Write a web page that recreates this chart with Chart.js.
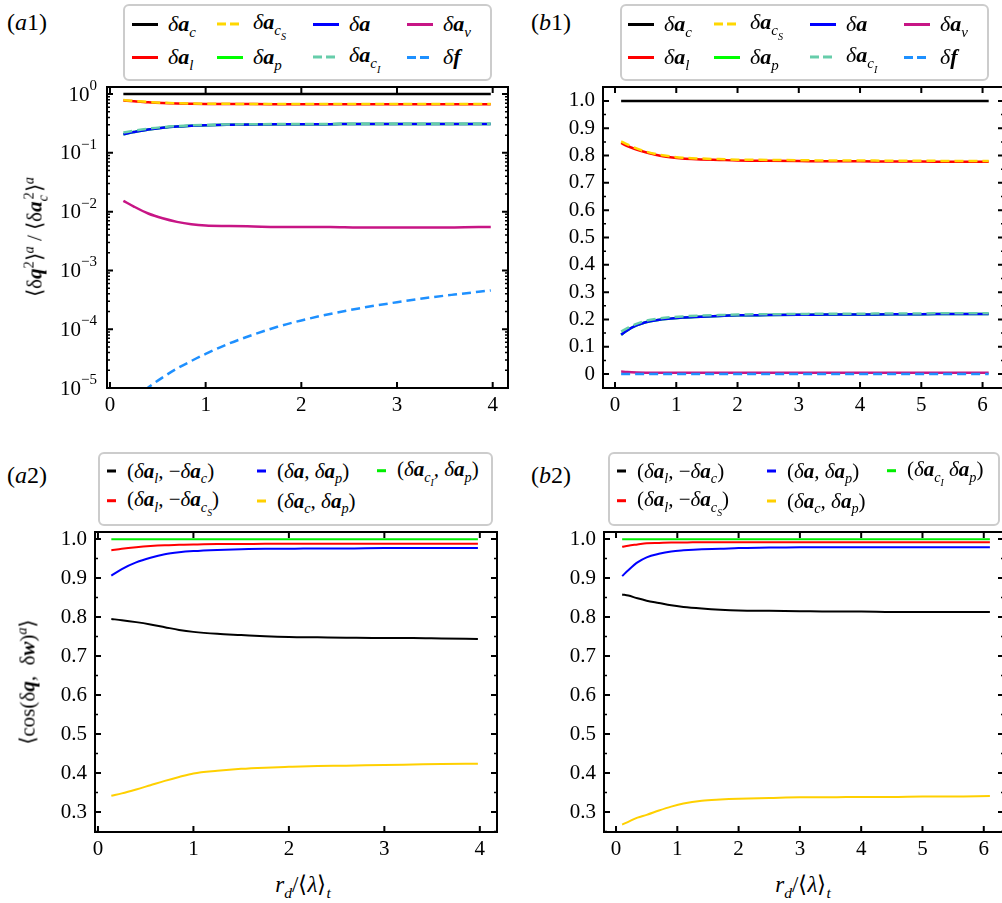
<!DOCTYPE html>
<html>
<head>
<meta charset="utf-8">
<script src="https://cdn.jsdelivr.net/npm/chart.js@4.4.0/dist/chart.umd.min.js"></script>
<style>
  body { margin: 0; width: 1002px; height: 903px; overflow: hidden; background: #fff; position: relative; font-family: 'Liberation Serif', 'Times New Roman', Times, serif; color: #000; }
  canvas { position: absolute; }
  .lg { position: absolute; border: 2px solid #cccccc; border-radius: 6px; background: #fff; box-sizing: border-box; }
  .it { position: absolute; display: flex; align-items: center; white-space: nowrap; transform: translateY(-50%); }
  .sw { display: inline-block; height: 3px; }
  .tx { font-style: italic; line-height: 1; }
  .r { font-style: normal; }
  sub { font-size: 0.68em; vertical-align: -0.4em; line-height: 0; }
  sup { font-size: 0.68em; vertical-align: 0.55em; line-height: 0; }
  .lab { position: absolute; font-size: 24px; line-height: 1; }
  .yt { position: absolute; font-size: 21px; line-height: 1; white-space: nowrap; transform: translate(-50%, -50%) rotate(-90deg); }
  .xt { position: absolute; font-size: 23px; line-height: 1; white-space: nowrap; transform: translate(-50%, -50%); font-style: italic; }
</style>
</head>
<body>
<canvas id="a1" width="475" height="355" style="left:40px;top:60px"></canvas>
<canvas id="b1" width="470" height="355" style="left:540px;top:60px"></canvas>
<canvas id="a2" width="475" height="355" style="left:30px;top:505px"></canvas>
<canvas id="b2" width="470" height="355" style="left:540px;top:505px"></canvas>

<div class="lab" style="left:7px;top:10px">(<i>a</i>1)</div>
<div class="lab" style="left:531px;top:10px">(<i>b</i>1)</div>
<div class="lab" style="left:7px;top:463px">(<i>a</i>2)</div>
<div class="lab" style="left:531px;top:463px">(<i>b</i>2)</div>

<div class="yt" style="left:35px;top:237px">⟨δ<b><i>q</i></b><sup>2</sup>⟩<sup><i>a</i></sup> / ⟨δ<b><i>a</i></b><sub><i>c</i></sub><sup style="margin-left:-0.3em">2</sup>⟩<sup><i>a</i></sup></div>
<div class="yt" style="left:28px;top:682px">⟨cos(δ<b><i>q</i></b>, &nbsp;δ<b><i>w</i></b>)<sup><i>a</i></sup>⟩</div>
<div class="xt" style="left:303px;top:884px">r<sub>d</sub><span class="r">/⟨</span>λ<span class="r">⟩</span><sub>t</sub></div>
<div class="xt" style="left:803px;top:884px">r<sub>d</sub><span class="r">/⟨</span>λ<span class="r">⟩</span><sub>t</sub></div>

<script>
// x positions (r_d / <lambda>_t)
const xA = [0.14, 0.25, 0.4, 0.55, 0.7, 0.85, 1.0, 1.25, 1.5, 1.75, 2.0, 2.3, 2.6, 3.0, 3.3, 3.6, 3.98];
const xB = [0.1, 0.2, 0.35, 0.5, 0.7, 0.9, 1.1, 1.4, 1.7, 2.0, 2.5, 3.0, 3.5, 4.0, 4.5, 5.0, 5.5, 6.1];

// (a1) variance ratios, log scale
const a1_ac  = [1, 1, 1, 1, 1, 1, 1, 1, 1, 1, 1, 1, 1, 1, 1, 1, 1];
const a1_al  = [0.78, 0.755, 0.725, 0.705, 0.693, 0.686, 0.681, 0.677, 0.675, 0.674, 0.673, 0.673, 0.672, 0.672, 0.672, 0.671, 0.671];
const a1_acS = [0.79, 0.765, 0.735, 0.712, 0.70, 0.692, 0.686, 0.682, 0.68, 0.679, 0.678, 0.678, 0.678, 0.677, 0.677, 0.677, 0.677];
const a1_a   = [0.208, 0.226, 0.25, 0.268, 0.281, 0.29, 0.296, 0.301, 0.304, 0.306, 0.307, 0.308, 0.309, 0.309, 0.31, 0.31, 0.31];
const a1_ap  = [0.208, 0.226, 0.25, 0.268, 0.281, 0.29, 0.296, 0.301, 0.304, 0.306, 0.307, 0.308, 0.309, 0.309, 0.31, 0.31, 0.31];
const a1_acI = [0.222, 0.238, 0.258, 0.274, 0.285, 0.293, 0.299, 0.304, 0.307, 0.309, 0.31, 0.311, 0.312, 0.312, 0.313, 0.313, 0.313];
const a1_av  = [0.0153, 0.0122, 0.0093, 0.0077, 0.0067, 0.0061, 0.0058, 0.0057, 0.0056, 0.0055, 0.0055, 0.0055, 0.0054, 0.0054, 0.0054, 0.0054, 0.0055];
const a1_f   = [4.4e-6, 6.3e-6, 1.02e-5, 1.51e-5, 2.14e-5, 2.88e-5, 3.8e-5, 5.75e-5, 8.1e-5, 1.1e-4, 1.41e-4, 1.82e-4, 2.26e-4, 2.88e-4, 3.39e-4, 3.89e-4, 4.57e-4];

// (b1) variance ratios, linear scale
const b1_ac  = [1, 1, 1, 1, 1, 1, 1, 1, 1, 1, 1, 1, 1, 1, 1, 1, 1, 1];
const b1_al  = [0.846, 0.835, 0.822, 0.812, 0.801, 0.794, 0.789, 0.786, 0.784, 0.782, 0.781, 0.780, 0.779, 0.779, 0.778, 0.778, 0.777, 0.777];
const b1_acS = [0.852, 0.841, 0.826, 0.815, 0.804, 0.797, 0.792, 0.789, 0.787, 0.785, 0.784, 0.783, 0.782, 0.782, 0.781, 0.781, 0.78, 0.78];
const b1_a   = [0.144, 0.16, 0.178, 0.19, 0.198, 0.203, 0.207, 0.21, 0.213, 0.215, 0.216, 0.217, 0.218, 0.218, 0.219, 0.219, 0.22, 0.22];
const b1_ap  = [0.144, 0.16, 0.178, 0.19, 0.198, 0.203, 0.207, 0.21, 0.213, 0.215, 0.216, 0.217, 0.218, 0.218, 0.219, 0.219, 0.22, 0.22];
const b1_acI = [0.156, 0.168, 0.184, 0.195, 0.203, 0.208, 0.211, 0.214, 0.216, 0.218, 0.219, 0.22, 0.221, 0.221, 0.222, 0.222, 0.223, 0.223];
const b1_av  = [0.009, 0.0075, 0.006, 0.0052, 0.0047, 0.0045, 0.0044, 0.0044, 0.0044, 0.0044, 0.0044, 0.0044, 0.0044, 0.0044, 0.0044, 0.0044, 0.0044, 0.0044];
const b1_f   = [3e-6, 6e-6, 1e-5, 1.8e-5, 3e-5, 4.5e-5, 6e-5, 9e-5, 1.2e-4, 1.5e-4, 2e-4, 2.6e-4, 3.1e-4, 3.6e-4, 4e-4, 4.4e-4, 4.8e-4, 5.2e-4];

// (a2) alignment cosines
const a2_lc  = [0.795, 0.792, 0.787, 0.781, 0.774, 0.767, 0.762, 0.757, 0.754, 0.751, 0.749, 0.748, 0.747, 0.746, 0.746, 0.745, 0.744];
const a2_lcS = [0.971, 0.975, 0.979, 0.982, 0.984, 0.985, 0.986, 0.987, 0.987, 0.988, 0.988, 0.988, 0.988, 0.988, 0.988, 0.988, 0.988];
const a2_ap  = [0.906, 0.923, 0.94, 0.952, 0.961, 0.966, 0.969, 0.972, 0.974, 0.975, 0.975, 0.976, 0.976, 0.977, 0.977, 0.977, 0.977];
const a2_cp  = [0.342, 0.348, 0.358, 0.369, 0.38, 0.39, 0.399, 0.406, 0.411, 0.414, 0.416, 0.418, 0.419, 0.421, 0.422, 0.423, 0.424];
const a2_cIp = [0.9995, 0.9995, 0.9995, 0.9995, 0.9995, 0.9995, 0.9995, 0.9995, 0.9995, 0.9995, 0.9995, 0.9995, 0.9995, 0.9995, 0.9995, 0.9995, 0.9995];

// (b2) alignment cosines
const b2_lc  = [0.858, 0.855, 0.848, 0.842, 0.836, 0.830, 0.826, 0.822, 0.819, 0.817, 0.816, 0.815, 0.814, 0.814, 0.813, 0.813, 0.813, 0.813];
const b2_lcS = [0.980, 0.983, 0.986, 0.989, 0.990, 0.991, 0.991, 0.992, 0.992, 0.992, 0.992, 0.992, 0.992, 0.992, 0.992, 0.992, 0.992, 0.992];
const b2_ap  = [0.905, 0.92, 0.94, 0.953, 0.962, 0.968, 0.971, 0.974, 0.975, 0.977, 0.978, 0.979, 0.979, 0.979, 0.979, 0.979, 0.979, 0.979];
const b2_cp  = [0.268, 0.275, 0.286, 0.293, 0.304, 0.314, 0.322, 0.329, 0.332, 0.334, 0.336, 0.338, 0.338, 0.339, 0.339, 0.34, 0.34, 0.341];
const b2_cIp = [0.9995, 0.9995, 0.9995, 0.9995, 0.9995, 0.9995, 0.9995, 0.9995, 0.9995, 0.9995, 0.9995, 0.9995, 0.9995, 0.9995, 0.9995, 0.9995, 0.9995, 0.9995];

// tick labels
const xTicksA = [0, 1, 2, 3, 4];
const xTicksB = [0, 1, 2, 3, 4, 5, 6];
const yTicksLog = [1e-5, 1e-4, 1e-3, 1e-2, 1e-1, 1];
const yTicksB1 = [0, 0.1, 0.2, 0.3, 0.4, 0.5, 0.6, 0.7, 0.8, 0.9, 1.0];
const yTicksCos = [0.3, 0.4, 0.5, 0.6, 0.7, 0.8, 0.9, 1.0];

// legend labels (column-major like matplotlib)
const names1 = [
  'δ<b>a</b><sub>c</sub>', 'δ<b>a</b><sub>l</sub>',
  'δ<b>a</b><sub>c<sub>S</sub></sub>', 'δ<b>a</b><sub>p</sub>',
  'δ<b>a</b>', 'δ<b>a</b><sub>c<sub>I</sub></sub>',
  'δ<b>a</b><sub>v</sub>', 'δ<b>f</b>'
];
const colors1 = ['#000000', '#ff0000', '#ffd700', '#00ff00', '#0000ff', '#66cdaa', '#c71585', '#1e90ff'];
const dashed1 = [false, false, true, false, false, true, false, true];

const names2 = [
  '<span class="r">(</span>δ<b>a</b><sub>l</sub>, <span class="r">−</span>δ<b>a</b><sub>c</sub><span class="r">)</span>',
  '<span class="r">(</span>δ<b>a</b><sub>l</sub>, <span class="r">−</span>δ<b>a</b><sub>c<sub>S</sub></sub><span class="r">)</span>',
  '<span class="r">(</span>δ<b>a</b>, δ<b>a</b><sub>p</sub><span class="r">)</span>',
  '<span class="r">(</span>δ<b>a</b><sub>c</sub>, δ<b>a</b><sub>p</sub><span class="r">)</span>',
  '<span class="r">(</span>δ<b>a</b><sub>c<sub>I</sub></sub>, δ<b>a</b><sub>p</sub><span class="r">)</span>'
];
const names2b = names2.slice();
names2b[4] = '<span class="r">(</span>δ<b>a</b><sub>c<sub>I</sub></sub> δ<b>a</b><sub>p</sub><span class="r">)</span>';
const colors2 = ['#000000', '#ff0000', '#0000ff', '#ffd000', '#00ee00'];

const FONT = "'Liberation Serif', 'Times New Roman', Times, serif";
const pts = (xs, ys) => xs.map((x, i) => ({x: x, y: ys[i]}));
const range = (a, b, s) => { const out = []; for (let v = a; v <= b + 1e-9; v += s) out.push(+v.toFixed(4)); return out; };
const logMinor = () => { const out = []; for (let e = -5; e <= 0; e++) for (let k = 2; k <= 9; k++) out.push(k * Math.pow(10, e)); return out; };

// frame with inward ticks on all four sides (+ 10^n labels for the log axis)
const framePlugin = {
  id: 'frame',
  afterDatasetsDraw(chart, args, o) {
    const {ctx, chartArea: a, scales: {x, y}} = chart;
    ctx.save();
    ctx.strokeStyle = '#000';
    ctx.lineWidth = 2;
    ctx.strokeRect(a.left, a.top, a.right - a.left, a.bottom - a.top);
    ctx.beginPath();
    o.xMajor.forEach(v => {
      const p = x.getPixelForValue(v);
      ctx.moveTo(p, a.bottom); ctx.lineTo(p, a.bottom - 6);
      ctx.moveTo(p, a.top); ctx.lineTo(p, a.top + 6);
    });
    o.yMajor.forEach(v => {
      const p = y.getPixelForValue(v);
      ctx.moveTo(a.left, p); ctx.lineTo(a.left + 6, p);
      ctx.moveTo(a.right, p); ctx.lineTo(a.right - 6, p);
    });
    ctx.stroke();
    ctx.lineWidth = 1.5;
    ctx.beginPath();
    o.yMinor.forEach(v => {
      const p = y.getPixelForValue(v);
      if (p < a.top || p > a.bottom) return;
      ctx.moveTo(a.left, p); ctx.lineTo(a.left + 3, p);
      ctx.moveTo(a.right, p); ctx.lineTo(a.right - 3, p);
    });
    ctx.stroke();

    if (o.logLabels) {
      ctx.fillStyle = '#000';
      ctx.textBaseline = 'middle';
      o.yMajor.forEach(v => {
        const p = y.getPixelForValue(v);
        const e = Math.round(Math.log10(v));
        const es = e === 0 ? '0' : '−' + (-e);
        ctx.font = '15px ' + FONT;
        const ew = ctx.measureText(es).width;
        const right = a.left - 10;
        ctx.textAlign = 'left';
        ctx.fillText(es, right - ew, p - 8);
        ctx.font = '21px ' + FONT;
        ctx.textAlign = 'right';
        ctx.fillText('10', right - ew, p + 1);
      });
    }
    ctx.restore();
  }
};

const tickFont = {family: FONT, size: 21};

function makeChart(id, cfg) {
  new Chart(document.getElementById(id), {
    type: 'line',
    data: {datasets: cfg.datasets},
    options: {
      responsive: false,
      animation: false,
      layout: {padding: {top: 27, right: cfg.padRight, left: 0, bottom: 0}},
      elements: {point: {radius: 0}, line: {cubicInterpolationMode: 'monotone'}},
      plugins: {
        legend: {display: false},
        tooltip: {enabled: false},
        frame: {xMajor: cfg.xTicks, yMajor: cfg.yTicks, yMinor: cfg.yMinor, logLabels: cfg.yType === 'logarithmic'}
      },
      scales: {
        x: {
          type: 'linear', min: cfg.xMin, max: cfg.xMax,
          grid: {display: false, drawTicks: false}, border: {display: false},
          ticks: {color: '#000', font: tickFont, padding: 5, autoSkip: false, maxRotation: 0, callback: v => String(v)},
          afterBuildTicks: s => { s.ticks = cfg.xTicks.map(v => ({value: v})); },
          afterFit: s => { s.height = cfg.xH; }
        },
        y: {
          type: cfg.yType, min: cfg.yMin, max: cfg.yMax,
          grid: {display: false, drawTicks: false}, border: {display: false},
          ticks: {display: cfg.yType !== 'logarithmic', color: '#000', font: tickFont, padding: 8, autoSkip: false, callback: cfg.yFmt},
          afterBuildTicks: s => { s.ticks = cfg.yTicks.map(v => ({value: v})); },
          afterFit: s => { s.width = cfg.yW; }
        }
      }
    },
    plugins: [framePlugin]
  });
}

function ds(xs, ys, color, dashed, width, order) {
  return {
    data: pts(xs, ys), borderColor: color, borderWidth: width,
    borderDash: dashed ? [9, 5] : [], fill: false, order: order
  };
}

const fmtLin = v => v === 0 ? '0' : v.toFixed(1);

const setA1 = [a1_ac, a1_al, a1_acS, a1_ap, a1_a, a1_acI, a1_av, a1_f];
const setB1 = [b1_ac, b1_al, b1_acS, b1_ap, b1_a, b1_acI, b1_av, b1_f];
const order1 = [1, 1, 0, 2, 1, 0, 1, 0];

makeChart('a1', {
  datasets: setA1.map((ys, i) => ds(xA, ys, colors1[i], dashed1[i], 2.5, order1[i])),
  xMin: -0.031, xMax: 4.16, xTicks: xTicksA, xH: 27, padRight: 7,
  yType: 'logarithmic', yMin: 1e-5, yMax: 1.32, yTicks: yTicksLog, yMinor: logMinor(), yW: 67,
  yFmt: v => String(v)
});

makeChart('b1', {
  datasets: setB1.map((ys, i) => ds(xB, ys, colors1[i], dashed1[i], 2.5, order1[i])),
  xMin: -0.196, xMax: 6.35, xTicks: xTicksB, xH: 27, padRight: 6,
  yType: 'linear', yMin: -0.051, yMax: 1.051, yTicks: yTicksB1, yMinor: range(0.05, 0.95, 0.1), yW: 63,
  yFmt: fmtLin
});

const setA2 = [a2_lc, a2_lcS, a2_ap, a2_cp, a2_cIp];
const setB2 = [b2_lc, b2_lcS, b2_ap, b2_cp, b2_cIp];

makeChart('a2', {
  datasets: setA2.map((ys, i) => ds(xA, ys, colors2[i], false, 2, 0)),
  xMin: -0.031, xMax: 4.18, xTicks: xTicksA, xH: 28, padRight: 8,
  yType: 'linear', yMin: 0.249, yMax: 1.018, yTicks: yTicksCos, yMinor: range(0.25, 0.95, 0.1), yW: 65,
  yFmt: fmtLin
});

makeChart('b2', {
  datasets: setB2.map((ys, i) => ds(xB, ys, colors2[i], false, 2, 0)),
  xMin: -0.196, xMax: 6.33, xTicks: xTicksB, xH: 28, padRight: 6,
  yType: 'linear', yMin: 0.249, yMax: 1.018, yTicks: yTicksCos, yMinor: range(0.25, 0.95, 0.1), yW: 64,
  yFmt: fmtLin
});

// html legends
function legend(box, names, colors, dashed, cols, rows, swW, gap, fs) {
  const el = document.createElement('div');
  el.className = 'lg';
  el.style.cssText = `left:${box[0]}px;top:${box[1]}px;width:${box[2]}px;height:${box[3]}px`;
  names.forEach((n, i) => {
    const c = Math.floor(i / rows.length), r = i % rows.length;
    const it = document.createElement('div');
    it.className = 'it';
    it.style.cssText = `left:${cols[c] - 2}px;top:${rows[r] - 2}px;font-size:${fs}px`;
    const bg = dashed && dashed[i]
      ? `repeating-linear-gradient(90deg, ${colors[i]} 0 9px, transparent 9px 13px)`
      : colors[i];
    it.innerHTML = `<span class="sw" style="width:${swW}px;margin-right:${gap}px;background:${bg}"></span><span class="tx">${n}</span>`;
    el.appendChild(it);
  });
  document.body.appendChild(el);
}

legend([123, 4, 369, 77], names1, colors1, dashed1, [9, 94, 190, 284], [20, 53], 26, 10, 22);
legend([620, 4, 369, 77], names1, colors1, dashed1, [8, 94, 190, 284], [20, 53], 26, 10, 22);
legend([98, 452, 395, 74], names2, colors2, null, [9, 159, 279], [19, 49], 9, 11, 21);
legend([608, 452, 392, 74], names2b, colors2, null, [9, 159, 279], [19, 49], 9, 11, 21);
</script>
</body>
</html>
